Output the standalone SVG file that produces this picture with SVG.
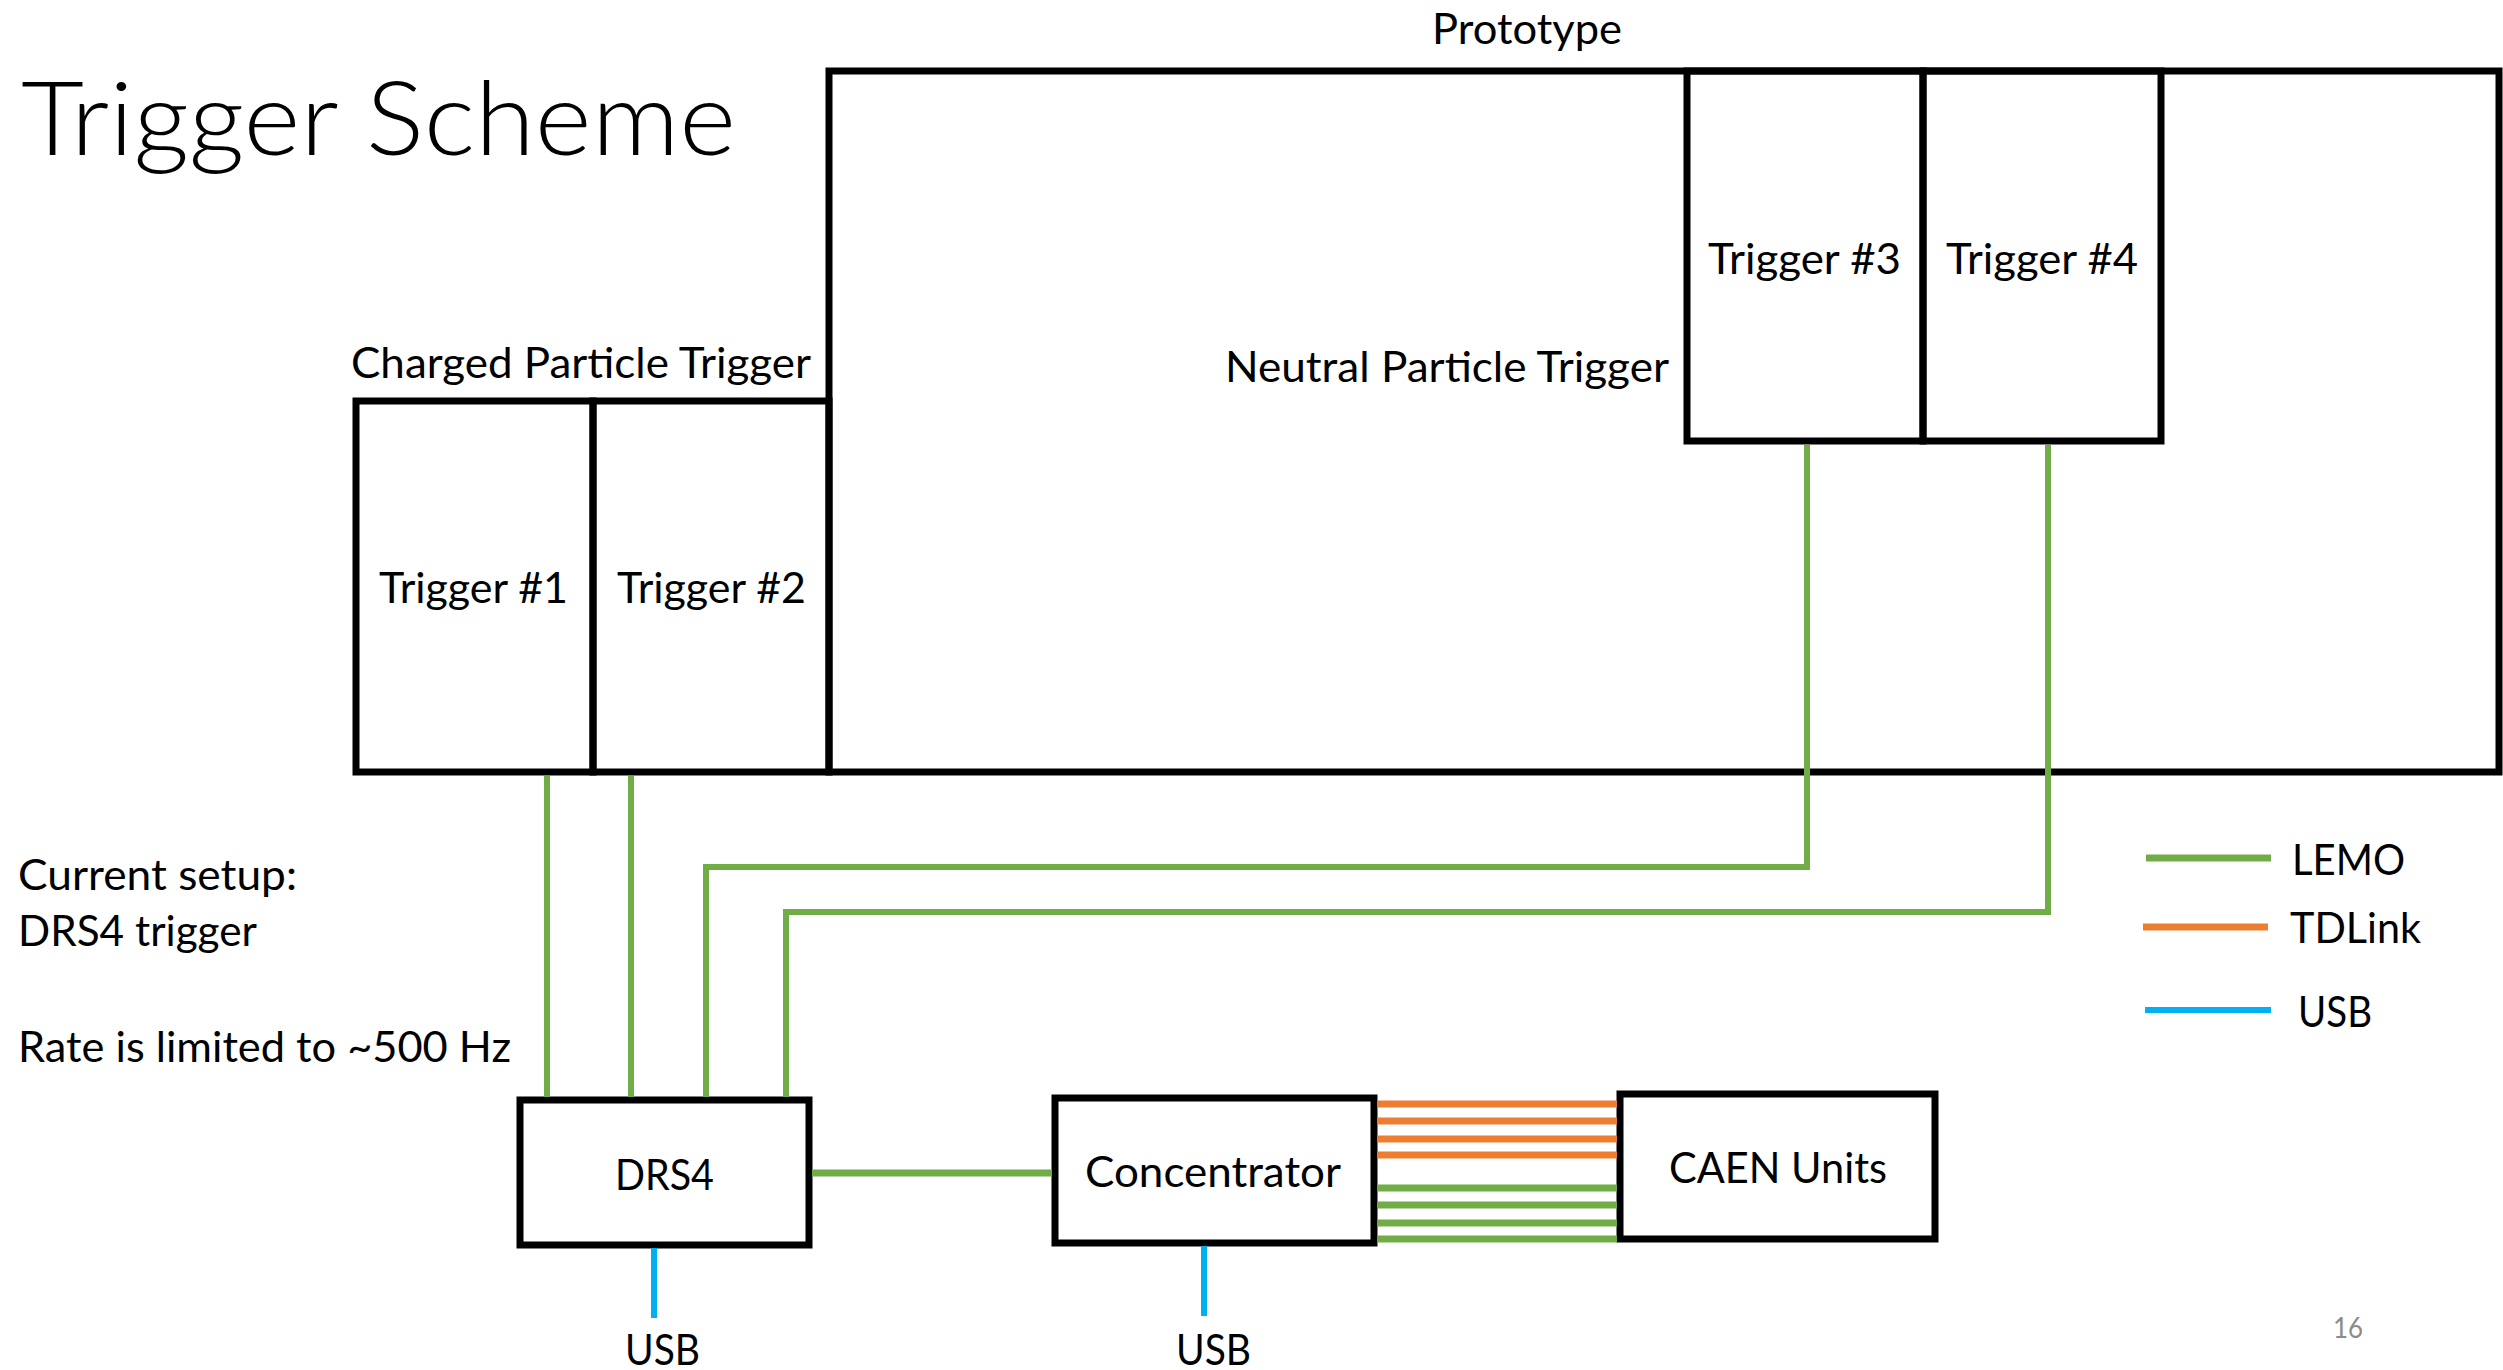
<svg xmlns="http://www.w3.org/2000/svg" width="2503" height="1370" viewBox="0 0 2503 1370">
<style>
text{font-family:Lato,"Open Sans","Liberation Sans",sans-serif;fill:#000;font-size:42px}
.title{font-size:102px;font-weight:300}
.box{fill:none;stroke:#000;stroke-width:7}
.lemo{fill:none;stroke:#70AD47;stroke-width:6}
.lemo2{fill:none;stroke:#70AD47;stroke-width:7}
.tdl{fill:none;stroke:#ED7D31;stroke-width:7}
.usb{fill:none;stroke:#00B0F0;stroke-width:6}
.pg{font-size:28px;fill:#8B8B8B}
</style>
<rect width="2503" height="1370" fill="#fff"/>
<text class="title" x="21" y="155" textLength="715" lengthAdjust="spacingAndGlyphs">Trigger Scheme</text>

<g id="prototype">
<rect class="box" x="829" y="71" width="1670" height="701"/>
<text x="1432" y="44" textLength="190" lengthAdjust="spacingAndGlyphs">Prototype</text>
<text x="1225" y="382" textLength="444" lengthAdjust="spacingAndGlyphs">Neutral Particle Trigger</text>
</g>
<g id="charged-label">
<text x="351" y="378" textLength="460" lengthAdjust="spacingAndGlyphs">Charged Particle Trigger</text>
</g>
<g id="trigger1">
<rect class="box" x="356" y="401" width="237" height="371"/>
<text x="379" y="603" textLength="189" lengthAdjust="spacingAndGlyphs">Trigger #1</text>
</g>
<g id="trigger2">
<rect class="box" x="593" y="401" width="236" height="371"/>
<text x="617" y="603" textLength="189" lengthAdjust="spacingAndGlyphs">Trigger #2</text>
</g>
<g id="trigger3">
<rect class="box" x="1687" y="71" width="236" height="370"/>
<text x="1708" y="274" textLength="193" lengthAdjust="spacingAndGlyphs">Trigger #3</text>
</g>
<g id="trigger4">
<rect class="box" x="1923" y="71" width="238" height="370"/>
<text x="1946" y="274" textLength="192" lengthAdjust="spacingAndGlyphs">Trigger #4</text>
</g>
<g id="drs4">
<rect class="box" x="520" y="1100" width="289" height="145"/>
<text x="615" y="1190" textLength="99" lengthAdjust="spacingAndGlyphs">DRS4</text>
</g>
<g id="concentrator">
<rect class="box" x="1055" y="1098" width="319" height="145"/>
<text x="1085" y="1187" textLength="256" lengthAdjust="spacingAndGlyphs">Concentrator</text>
</g>
<g id="caen">
<rect class="box" x="1620" y="1094" width="315" height="145"/>
<text x="1669" y="1183" textLength="218" lengthAdjust="spacingAndGlyphs">CAEN Units</text>
</g>

<g id="connectors">
<path class="lemo" d="M547 776V1097"/>
<path class="lemo" d="M631 776V1097"/>
<path class="lemo" d="M1807 445V867H706V1097"/>
<path class="lemo" d="M2048 445V912H786V1097"/>
<path class="lemo2" d="M812 1173H1052"/>
<path class="tdl" d="M1377 1104H1617M1377 1121H1617M1377 1139H1617M1377 1155H1617"/>
<path class="lemo2" d="M1377 1188H1617M1377 1205H1617M1377 1223H1617M1377 1239H1617"/>
<path class="usb" d="M654 1248V1318"/>
<path class="usb" d="M1204 1246V1316"/>
</g>
<text x="625" y="1365" textLength="75" lengthAdjust="spacingAndGlyphs">USB</text>
<text x="1176" y="1365" textLength="75" lengthAdjust="spacingAndGlyphs">USB</text>

<g id="notes">
<text x="18" y="890" textLength="279" lengthAdjust="spacingAndGlyphs">Current setup:</text>
<text x="18" y="946" textLength="239" lengthAdjust="spacingAndGlyphs">DRS4 trigger</text>
<text x="18" y="1062" textLength="493" lengthAdjust="spacingAndGlyphs">Rate is limited to ~500 Hz</text>
</g>

<g id="legend">
<path class="lemo2" d="M2146 858H2271"/>
<path class="tdl" d="M2143 927H2268"/>
<path class="usb" d="M2145 1010H2271"/>
<text x="2292" y="875" textLength="113" lengthAdjust="spacingAndGlyphs">LEMO</text>
<text x="2290" y="943" textLength="131" lengthAdjust="spacingAndGlyphs">TDLink</text>
<text x="2298" y="1027" textLength="74" lengthAdjust="spacingAndGlyphs">USB</text>
</g>
<text class="pg" x="2333" y="1338" textLength="30" lengthAdjust="spacingAndGlyphs">16</text>
</svg>
